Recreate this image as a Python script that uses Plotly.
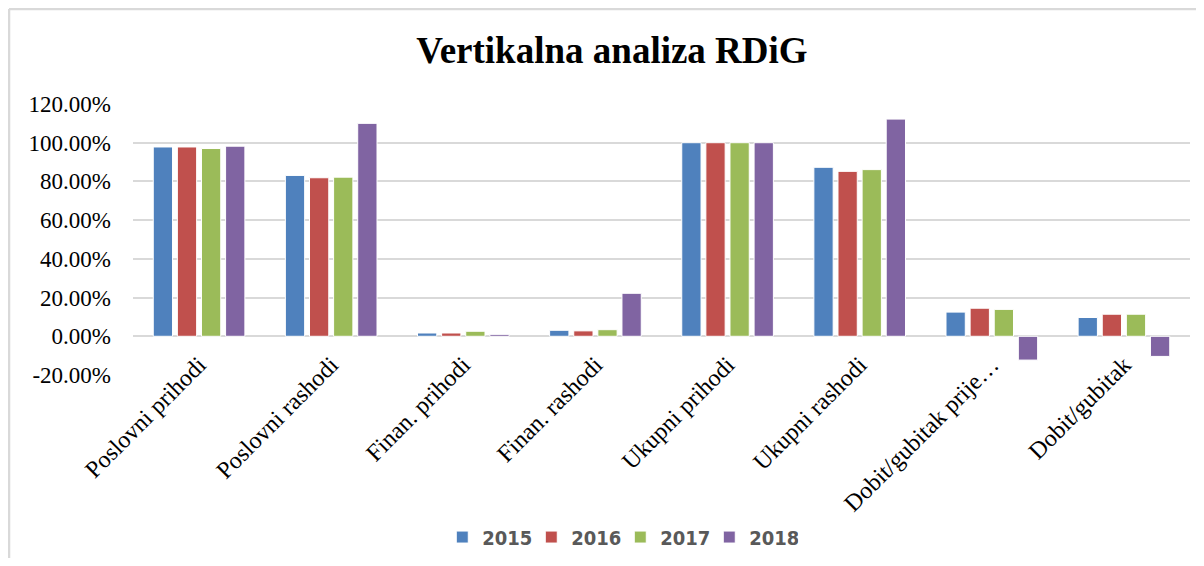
import plotly.graph_objects as go

categories = ["Poslovni prihodi", "Poslovni rashodi", "Finan. prihodi", "Finan. rashodi",
              "Ukupni prihodi", "Ukupni rashodi", "Dobit/gubitak prije…", "Dobit/gubitak"]
years = ["2015", "2016", "2017", "2018"]
v2015 = [0.978, 0.831, 0.017, 0.031, 1.00, 0.873, 0.125, 0.097]
v2016 = [0.978, 0.819, 0.017, 0.028, 1.00, 0.852, 0.145, 0.114]
v2017 = [0.970, 0.822, 0.026, 0.034, 1.00, 0.861, 0.139, 0.114]
v2018 = [0.982, 1.100, 0.010, 0.222, 1.00, 1.122, -0.123, -0.104]
tick_vals = [-0.2, 0.0, 0.2, 0.4, 0.6, 0.8, 1.0, 1.2]
tick_text = ["-20.00%", "0.00%", "20.00%", "40.00%", "60.00%", "80.00%", "100.00%", "120.00%"]
colors = ["#4F81BD", "#C0504D", "#9BBB59", "#8064A2"]

series = [v2015, v2016, v2017, v2018]

fig = go.Figure()
for name, vals, col in zip(years, series, colors):
    fig.add_trace(go.Bar(x=categories, y=vals, name=name,
                         marker=dict(color=col, line=dict(color="white", width=1))))

serif = "Liberation Serif, Times New Roman, serif"
fig.update_layout(
    width=1188, height=550,
    paper_bgcolor="white", plot_bgcolor="white",
    margin=dict(l=125, r=6, t=96, b=183, autoexpand=False),
    barmode="group", bargap=0.27, bargroupgap=0.2,
    title=dict(text="<b>Vertikalna analiza RDiG</b>", x=0.5084, xanchor="center",
               y=0.9236, yanchor="middle",
               font=dict(family=serif, size=37, color="black")),
    font=dict(family=serif, color="black"),
    showlegend=True,
    legend=dict(orientation="h", x=0.461, xanchor="center", xref="paper",
                y=-0.598, yanchor="middle",
                font=dict(family="DejaVu Sans Condensed, Liberation Sans, sans-serif",
                          size=20, color="#595959", weight="bold"),
                itemwidth=30, entrywidth=44, tracegroupgap=0),
    yaxis=dict(range=[-0.2, 1.2], tickvals=tick_vals, ticktext=tick_text, automargin=False,
               showgrid=True, gridcolor="#D9D9D9", gridwidth=2,
               zeroline=True, zerolinecolor="#D9D9D9", zerolinewidth=2,
               showline=False, ticks="", ticklabelstandoff=21,
               tickfont=dict(family=serif, size=23, color="black")),
    xaxis=dict(tickangle=-45, showline=False, ticks="", showgrid=False, automargin=False,
               ticklabelstandoff=-30,
               tickfont=dict(family=serif, size=24, color="black")),
    shapes=[
        dict(type="line", xref="paper", yref="paper", x0=-0.1173, x1=1.02, y0=1.3506, y1=1.3506,
             line=dict(color="#D9D9D9", width=2.5)),
        dict(type="line", xref="paper", yref="paper", x0=-0.1173, x1=-0.1173, y0=1.3506, y1=-0.72,
             line=dict(color="#D9D9D9", width=2.5)),
    ],
)

fig.write_html("out.html")
